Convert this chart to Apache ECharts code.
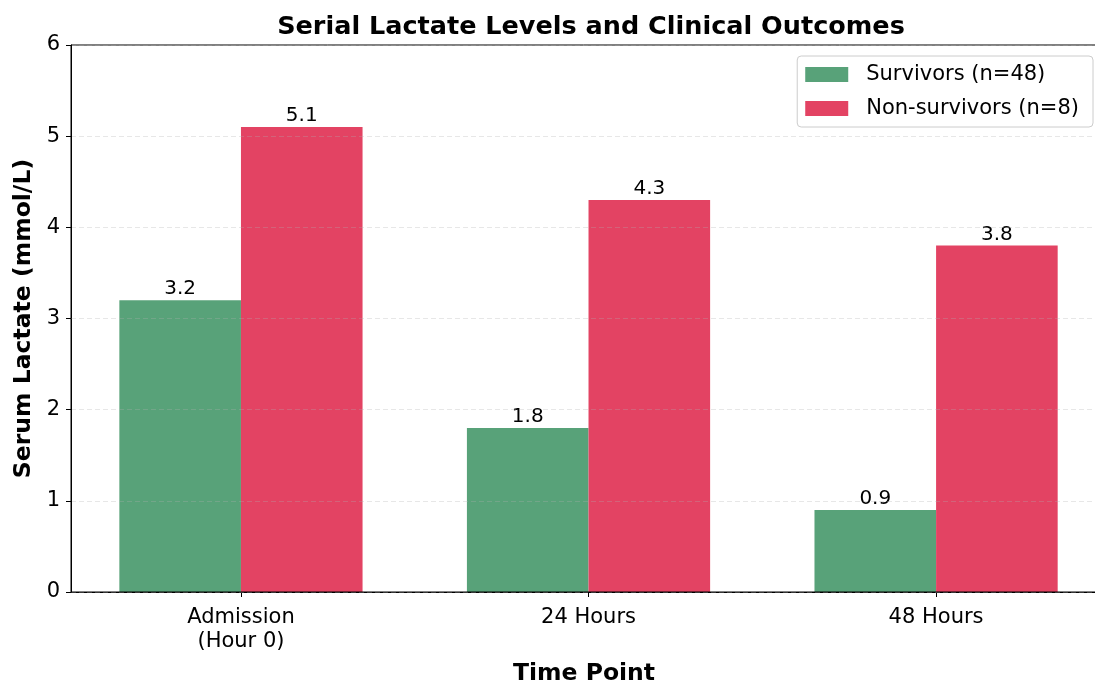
<!DOCTYPE html>
<html><head><meta charset="utf-8">
<script src="https://cdn.jsdelivr.net/npm/echarts@6/dist/echarts.min.js"></script>
<style>html,body{margin:0;padding:0;background:#fff}#c{width:1095px;height:681px}</style>
</head><body><div id="c"></div>
<script>
const categories = ['Admission\n(Hour 0)', '24 Hours', '48 Hours'];
const categoryPositions = [0, 1, 2];
const survivors = [3.2, 1.8, 0.9];
const nonSurvivors = [5.1, 4.3, 3.8];
const seriesNames = ['Survivors (n=48)', 'Non-survivors (n=8)'];
const yTicks = [0, 1, 2, 3, 4, 5, 6];

const font = 'DejaVu Sans';
const chart = echarts.init(document.getElementById('c'), null, {renderer: 'canvas'});
const labelCfg = {show: true, position: 'top', distance: 1, color: '#000', fontFamily: font, fontSize: 20,
  formatter: p => p.value[1].toFixed(1)};
chart.setOption({
  animation: false,
  backgroundColor: '#fff',
  title: {text: 'Serial Lactate Levels and Clinical Outcomes', left: 586, top: 9, textAlign: 'center',
    textStyle: {fontFamily: font, fontWeight: 'bold', fontSize: 25.5, color: '#000'}},
  legend: {orient: 'vertical', right: 2, top: 56, itemWidth: 43, itemHeight: 15, itemGap: 13,
    padding: [8, 14, 8, 8], borderColor: '#cccccc', borderWidth: 1, borderRadius: 4, backgroundColor: '#fff',
    textStyle: {fontFamily: font, fontSize: 21, color: '#000', padding: [0, 0, 0, 13]},
    itemStyle: {borderWidth: 0},
    icon: 'rect',
    data: seriesNames},
  grid: {left: 71, right: -2, top: 45, bottom: 89, show: true, borderColor: '#000', borderWidth: 1, z: 10,
    outerBoundsMode: 'none', containLabel: false},
  xAxis: {type: 'value', min: -0.489, max: 2.463,
    name: 'Time Point', nameLocation: 'middle', nameGap: 70,
    nameTextStyle: {fontFamily: font, fontWeight: 'bold', fontSize: 23.5, color: '#000'},
    axisLine: {show: true, onZero: false, lineStyle: {color: '#000', width: 1}},
    splitLine: {show: false},
    axisTick: {show: true, customValues: categoryPositions, length: 5, lineStyle: {color: '#000'}},
    axisLabel: {customValues: categoryPositions, fontFamily: font, fontSize: 21, color: '#000', margin: 14, lineHeight: 24,
      formatter: v => categories[Math.round(v)]}},
  yAxis: {type: 'value', min: 0, max: 6, interval: 1, z: 10,
    name: 'Serum Lactate (mmol/L)', nameLocation: 'middle', nameGap: 35,
    nameTextStyle: {fontFamily: font, fontWeight: 'bold', fontSize: 23.5, color: '#000'},
    axisLine: {show: true, onZero: false, lineStyle: {color: '#000', width: 1}},
    axisTick: {show: true, length: 5, lineStyle: {color: '#000'}},
    axisLabel: {fontFamily: font, fontSize: 21, color: '#000', margin: 11,
      formatter: v => yTicks.includes(v) ? String(v) : ''},
    splitLine: {show: true, lineStyle: {color: 'rgba(176,176,176,0.3)', type: [5, 3], width: 1}}},
  series: [
    {name: seriesNames[0], type: 'bar', data: categoryPositions.map((x, i) => [x, survivors[i]]),
      barWidth: 121.6, barGap: '0%', itemStyle: {color: '#58a279'}, label: labelCfg},
    {name: seriesNames[1], type: 'bar', data: categoryPositions.map((x, i) => [x, nonSurvivors[i]]),
      barWidth: 121.6, barGap: '0%', itemStyle: {color: '#e34363'}, label: labelCfg}
  ]
});
</script></body></html>
